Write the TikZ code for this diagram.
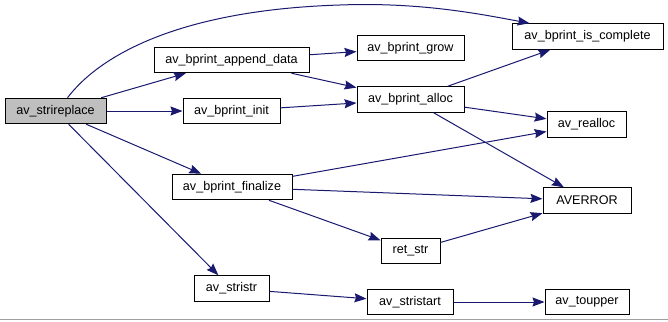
\documentclass[tikz,border=0pt]{standalone}
\usepackage{fontspec}
\setmainfont{Liberation Sans}
\usetikzlibrary{arrows.meta}
\definecolor{edgeblue}{RGB}{25,25,112}
\definecolor{rootgray}{RGB}{191,191,191}
\tikzset{
  fn/.style={draw=black,line width=1pt,fill=white,minimum width=#1,minimum height=25.5pt,inner sep=0pt},
  call/.style={edgeblue,line width=1pt,-{Stealth[length=12pt,width=9pt,inset=1.5pt]}}
}
\begin{document}
\begin{tikzpicture}[x=1pt,y=-1pt,font=\fontsize{12.6}{14}\selectfont]
	\useasboundingbox (0,0) rectangle (668,321);
	\draw[gray!75,line width=1pt] (0,319.5)--(668,319.5);
	% functions
	\node[fn=101,fill=rootgray] (strireplace) at (55.5,111) {av\_strireplace};
	\node[fn=155] (appenddata) at (231.5,60) {av\_bprint\_append\_data};
	\node[fn=97] (init) at (231.5,111) {av\_bprint\_init};
	\node[fn=120] (finalize) at (232,187) {av\_bprint\_finalize};
	\node[fn=75] (stristr) at (231.5,288.5) {av\_stristr};
	\node[fn=107] (grow) at (410.5,48) {av\_bprint\_grow};
	\node[fn=107] (alloc) at (410.5,99.5) {av\_bprint\_alloc};
	\node[fn=59] (retstr) at (410.5,251) {ret\_str};
	\node[fn=86] (stristart) at (410,302) {av\_stristart};
	\node[fn=151] (iscomplete) at (587.5,36.5) {av\_bprint\_is\_complete};
	\node[fn=79] (realloc) at (586.5,124.5) {av\_realloc};
	\node[fn=88] (averror) at (587,200.5) {AVERROR};
	\node[fn=84] (toupper) at (587,302) {av\_toupper};
	% calls
	\draw[call] ([xshift=12]strireplace.north) .. controls (100,55) and (180,10) .. (340,5)
		.. controls (420,2) and (480,14) .. ([xshift=-58]iscomplete.north);
	\draw[call] (strireplace)--(appenddata);
	\draw[call] (strireplace)--(init);
	\draw[call] (strireplace)--(finalize);
	\draw[call] (strireplace)--(stristr);
	\draw[call] (appenddata)--(grow);
	\draw[call] (appenddata)--(alloc);
	\draw[call] (init)--(alloc);
	\draw[call] (alloc)--(iscomplete);
	\draw[call] (alloc)--(realloc);
	\draw[call] (alloc)--(averror);
	\draw[call] (finalize)--(realloc);
	\draw[call] (finalize)--(averror);
	\draw[call] (finalize)--(retstr);
	\draw[call] (retstr)--(averror);
	\draw[call] (stristr)--(stristart);
	\draw[call] (stristart)--(toupper);
\end{tikzpicture}
\end{document}
